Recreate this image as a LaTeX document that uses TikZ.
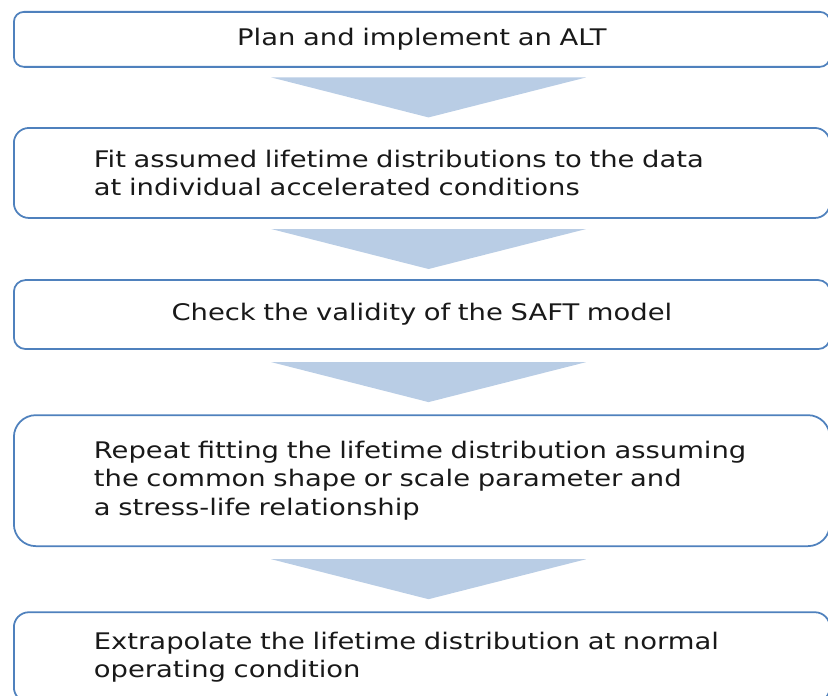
\documentclass[tikz,border=0pt]{standalone}
\usepackage{fontspec}
\setmainfont{DejaVu Sans}[FakeStretch=1.2]
\usepackage{xcolor}
\usetikzlibrary{positioning,calc}

\definecolor{stepline}{RGB}{79,129,189}
\definecolor{stepfill}{RGB}{185,205,229}
\definecolor{steptext}{RGB}{25,25,25}

\begin{document}
\begin{tikzpicture}[
    node distance=1.8cm,
    stepbox/.style={draw=stepline, line width=1.5pt, fill=white, text=steptext, minimum width=24.48cm, text width=19.68cm, inner xsep=2.4cm, inner ysep=0pt, font=\fontsize{19.5}{24.2}\selectfont},
    midbox/.style={stepbox, align=center},
    leftbox/.style={stepbox, align=left},
    downarr/.style={fill=stepfill}
]
\useasboundingbox (0,0) rectangle (24.84,-20.88);
\clip (0,0) rectangle (24.84,-20.88);

\node[midbox, minimum height=1.65cm, rounded corners=0.3cm, anchor=north west] (plan) at (0.39,-0.33) {Plan and implement an ALT};
\node[leftbox, minimum height=2.7cm, rounded corners=0.45cm, below=1.78cm of plan] (fit) {Fit assumed lifetime distributions to the data\\at individual accelerated conditions};
\node[midbox, minimum height=2.07cm, rounded corners=0.35cm, below=1.81cm of fit] (check) {Check the validity of the SAFT model};
\node[leftbox, minimum height=3.93cm, rounded corners=0.66cm, below=1.93cm of check] (repeat) {Repeat fitting the lifetime distribution assuming\\the common shape or scale parameter and\\a stress-life relationship};
\node[leftbox, minimum height=2.7cm, rounded corners=0.45cm, below=1.93cm of repeat] (extra) {Extrapolate the lifetime distribution at normal\\operating condition};

% wide arrows between the steps
\foreach \a/\b in {plan/fit, fit/check, check/repeat, repeat/extra}
  \fill[downarr] ($(\a.south)!0.5!(\b.north)+(-4.52,0.6)$) -- ++(9.45,0) -- ($(\a.south)!0.5!(\b.north)+(0.2,-0.6)$) -- cycle;
\end{tikzpicture}
\end{document}
